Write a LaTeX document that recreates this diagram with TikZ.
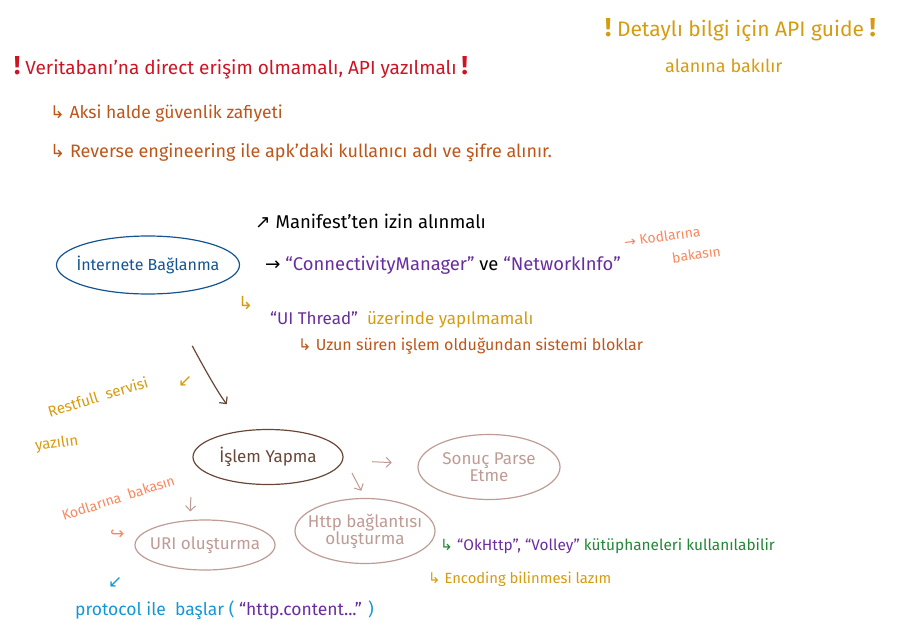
\documentclass[tikz,border=0pt]{standalone}
\usepackage{fontspec}
\setmainfont{Fira Sans}
\newfontfamily\arrowfont{DejaVu Sans}
\usetikzlibrary{shapes.geometric,arrows.meta}

\definecolor{notered}{RGB}{205,20,35}
\definecolor{noterust}{RGB}{190,85,25}
\definecolor{notegold}{RGB}{215,155,15}
\definecolor{notepurple}{RGB}{105,45,160}
\definecolor{notesalmon}{RGB}{250,135,95}
\definecolor{noteblue}{RGB}{20,85,145}
\definecolor{notebrown}{RGB}{105,70,55}
\definecolor{notepink}{RGB}{190,155,148}
\definecolor{notegreen}{RGB}{35,135,55}
\definecolor{notecyan}{RGB}{20,150,215}

\newcommand*{\turn}{{\arrowfont ↳}}
\newcommand*{\fsize}[1]{\fontsize{#1}{#1}\selectfont}
\newcommand*{\bang}{{\bfseries\fsize{26}!}}

\begin{document}
\begin{tikzpicture}
[
	x=1pt,y=-1pt,
	>={Straight Barb[length=5pt,width=10pt]},
	note/.style={anchor=west,inner sep=0pt,font=\fsize{15}},
	bubble/.style={ellipse,draw,line width=1.2pt,inner xsep=-8pt,inner ysep=0pt,font=\fsize{17},align=center},
	link/.style={->,line width=1pt,notepink}
]
	\useasboundingbox (0,0) rectangle (901,642);

	% warnings on top
	\node[note,notered,font=\fsize{19}] (warn) at (14,68) {\bang\ Veritabanı'na direct erişim olmamalı, API yazılmalı \bang};
	\node[note,noterust,font=\fsize{17.5}] (risk) at (50,114) {\turn\ Aksi halde güvenlik zafiyeti};
	\node[note,noterust,font=\fsize{18}] (reverse) at (50,153) {\turn\ Reverse engineering ile apk'daki kullanıcı adı ve şifre alınır.};
	\node[note,notegold,font=\fsize{21}] (guide) at (605,30) {\bang\ Detaylı bilgi için API guide \bang};
	\node[note,notegold,font=\fsize{18}] (guide2) at (665,66) {alanına bakılır};

	% internet node and its notes
	\node[bubble,noteblue,font=\fsize{16},minimum width=183pt,minimum height=58pt] (internet) at (148,265) {İnternete Bağlanma};
	\node[note,black,font=\fsize{18.5}] (manifest) at (255,221) {{\arrowfont ↗} Manifest'ten izin alınmalı};
	\node[note,black,font=\fsize{18.4}] (classes) at (265,265) {{\arrowfont →} {\color{notepurple}“ConnectivityManager”} ve {\color{notepurple}“NetworkInfo”}};
	\node[note,notesalmon,font=\fsize{14},rotate=8] (code1) at (624,242) {{\arrowfont →} Kodlarına};
	\node[note,notesalmon,font=\fsize{14},rotate=8] (code1b) at (672,258) {bakasın};
	\node[note,notegold,font=\fsize{18}] (uiarrow) at (238,303) {\turn};
	\node[note,notegold,font=\fsize{17}] (thread) at (270,320) {{\color{notepurple}“UI Thread”}\ \ üzerinde yapılmamalı};
	\node[note,noterust,font=\fsize{16}] (block) at (298,346) {\turn\ Uzun süren işlem olduğundan sistemi bloklar};

	% restful hint
	\node[note,notegold,font=\fsize{17}] (restarrow) at (178,382) {{\arrowfont ↙}};
	\node[note,notegold,font=\fsize{15},rotate=17] (rest) at (48,412) {Restfull\ \ servisi};
	\node[note,notegold,font=\fsize{15},rotate=8] (rest2) at (35,447) {yazılın};

	% process nodes
	\node[bubble,notebrown,minimum width=150pt,minimum height=55pt] (islem) at (268,457) {İşlem Yapma};
	\node[bubble,notepink,minimum width=142pt,minimum height=65pt] (sonuc) at (489,467) {Sonuç Parse\\Etme};
	\node[bubble,notepink,minimum width=140pt,minimum height=65pt] (http) at (365,531) {Http bağlantısı\\oluşturma};
	\node[bubble,notepink,minimum width=140pt,minimum height=50pt] (uri) at (205,545) {URI oluşturma};

	% connectors
	\draw[->,line width=1.2pt,notebrown,shorten <=85pt,shorten >=67pt] ([xshift=18pt]internet.center) to[bend right=10] (islem.center);
	\draw[link,shorten <=29pt,shorten >=26pt] (islem) -- (sonuc);
	\draw[link,shorten <=18pt,shorten >=8pt] (islem.east) -- (http.north);
	\draw[link,shorten <=40pt,shorten >=8pt] (islem.west) -- ([xshift=-15pt]uri.north);

	% notes round the lower nodes
	\node[note,notesalmon,font=\fsize{14},rotate=18] (code2) at (62,516) {Kodlarına\ \ bakasın};
	\node[note,notesalmon,font=\fsize{17}] (codearrow) at (110,535) {{\arrowfont ↪}};
	\node[note,notecyan,font=\fsize{17}] (protarrow) at (108,582) {{\arrowfont ↙}};
	\node[note,notecyan,font=\fsize{17.5}] (protocol) at (75,610) {protocol ile\ \ başlar ( {\color{notepurple}“http.content...”} )};
	\node[note,notegreen,font=\fsize{15.4}] (libs) at (440,546) {\turn\ {\color{notepurple}“OkHttp”, “Volley”} kütüphaneleri kullanılabilir};
	\node[note,notegold,font=\fsize{14.8}] (encoding) at (428,579) {\turn\ Encoding bilinmesi lazım};

\end{tikzpicture}
\end{document}
